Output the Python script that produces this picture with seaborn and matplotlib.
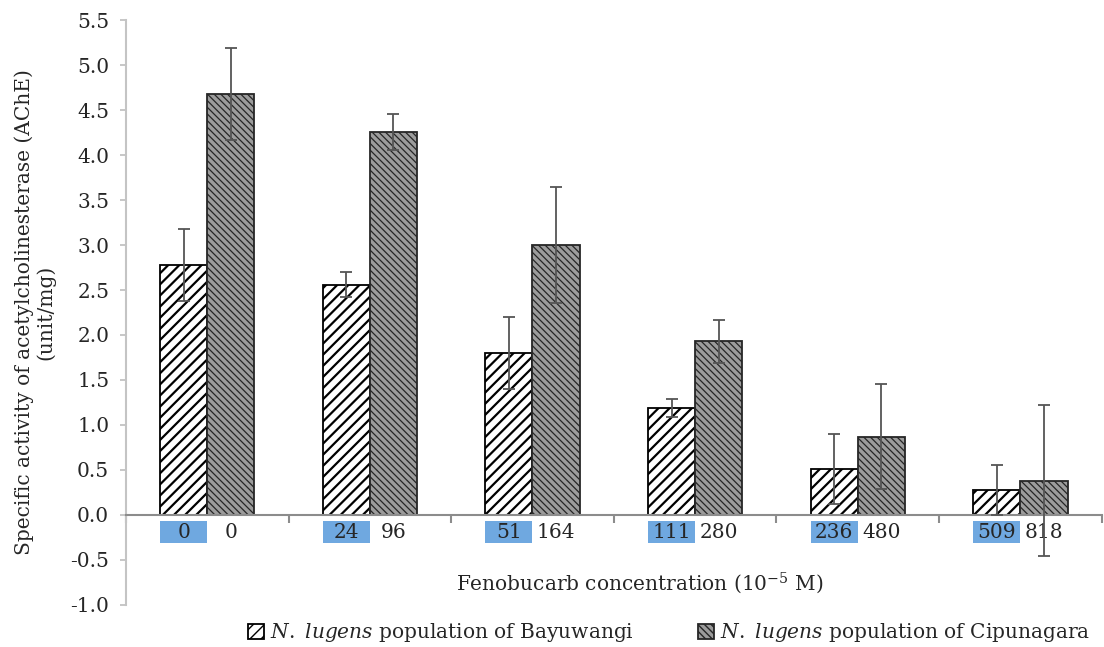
import numpy as np
import pandas as pd
import seaborn as sns
import matplotlib.ticker as mticker
from matplotlib import pyplot as plt
from matplotlib.patches import Rectangle

sns.set_theme(style="white")
plt.rcParams["font.family"] = ["DejaVu Serif"]
plt.rcParams["mathtext.fontset"] = "dejavuserif"
plt.rcParams["axes.unicode_minus"] = False

# data
bay_conc = ["0", "24", "51", "111", "236", "509"]
cip_conc = ["0", "96", "164", "280", "480", "818"]
bay_mean = [2.78, 2.56, 1.80, 1.19, 0.51, 0.28]
bay_err = [0.40, 0.14, 0.40, 0.10, 0.39, 0.28]
cip_mean = [4.68, 4.26, 3.00, 1.93, 0.87, 0.38]
cip_err = [0.51, 0.20, 0.64, 0.24, 0.58, 0.84]
populations = ["Bayuwangi", "Cipunagara"]
legend_labels = [
    r"$\it{N.}$ $\it{lugens}$ population of Bayuwangi",
    r"$\it{N.}$ $\it{lugens}$ population of Cipunagara",
]

groups = [str(i + 1) for i in range(len(bay_conc))]
df = pd.DataFrame({
    "group": groups * 2,
    "population": [populations[0]] * len(groups) + [populations[1]] * len(groups),
    "activity": bay_mean + cip_mean,
})

fig = plt.figure(figsize=(11.04, 6.47), dpi=100)
ax = fig.add_axes([0.114, 0.065, 0.884, 0.904])

sns.barplot(data=df, x="group", y="activity", hue="population", order=groups,
            hue_order=populations, width=0.58, gap=0, legend=False, ax=ax,
            errorbar=None)

styles = [
    dict(facecolor="white", edgecolor="black", hatch="///", hlw=1.6),
    dict(facecolor="#9c9c9c", edgecolor="#262626", hatch="\\\\\\\\\\", hlw=0.9),
]
errs = [bay_err, cip_err]
for cont, st, err in zip(ax.containers, styles, errs):
    xs, ys = [], []
    for bar in cont:
        bar.set_facecolor(st["facecolor"])
        bar.set_edgecolor(st["edgecolor"])
        bar.set_hatch(st["hatch"])
        bar.set_linewidth(1.3)
        if hasattr(bar, "set_hatch_linewidth"):
            bar.set_hatch_linewidth(st["hlw"])
        xs.append(bar.get_x() + bar.get_width() / 2)
        ys.append(bar.get_height())
    ax.errorbar(xs, ys, yerr=err, fmt="none", ecolor="#555555",
                elinewidth=1.3, capsize=4, capthick=1.3, zorder=5)

# concentration labels under each bar
for i, bar in enumerate(ax.containers[0]):
    ax.add_patch(Rectangle((bar.get_x(), -0.31), bar.get_width(), 0.24,
                           facecolor="#6fa8e0", edgecolor="none",
                           clip_on=False, zorder=1))
    ax.text(bar.get_x() + bar.get_width() / 2, -0.19, bay_conc[i],
            ha="center", va="center", fontsize=14.5, zorder=2)
for i, bar in enumerate(ax.containers[1]):
    ax.text(bar.get_x() + bar.get_width() / 2, -0.19, cip_conc[i],
            ha="center", va="center", fontsize=14.5)

ax.set_xlim(-0.5, len(groups) - 0.5)
ax.set_ylim(-1.0, 5.5)
ax.set_yticks(np.arange(-1.0, 5.51, 0.5))
ax.yaxis.set_major_formatter(mticker.FormatStrFormatter("%.1f"))
ax.set_xticks(np.arange(len(groups) + 1) - 0.5)
ax.set_xticklabels([])
ax.tick_params(axis="x", direction="out", length=6, width=1.5, color="#8c8c8c", bottom=True)
ax.tick_params(axis="y", direction="out", length=4, width=1.2, color="#bdbdbd",
               labelsize=14.5, pad=8, left=True)

for s in ["top", "right"]:
    ax.spines[s].set_visible(False)
ax.spines["bottom"].set_position(("data", 0))
ax.spines["bottom"].set_color("#8c8c8c")
ax.spines["bottom"].set_linewidth(1.5)
ax.spines["left"].set_color("#c4c4c4")
ax.spines["left"].set_linewidth(1.5)

ax.set_xlabel("")
ax.set_ylabel("Specific activity of acetylcholinesterase (AChE)\n(unit/mg)",
              fontsize=14.5, linespacing=1.15)
ax.yaxis.set_label_coords(-0.072, 0.5)
ax.annotate(r"Fenobucarb concentration (10$^{-5}$ M)", xy=(0.527, 0.038),
            xycoords="axes fraction", ha="center", va="center", fontsize=14.5)

fig.legend(handles=[c[0] for c in ax.containers], labels=legend_labels,
           loc="center", bbox_to_anchor=(0.606, 0.022), ncol=2, frameon=False,
           fontsize=14.5, handlelength=0.8, handleheight=0.8, handletextpad=0.3,
           columnspacing=3.2, borderaxespad=0)

plt.savefig("out.png")
plt.close()
